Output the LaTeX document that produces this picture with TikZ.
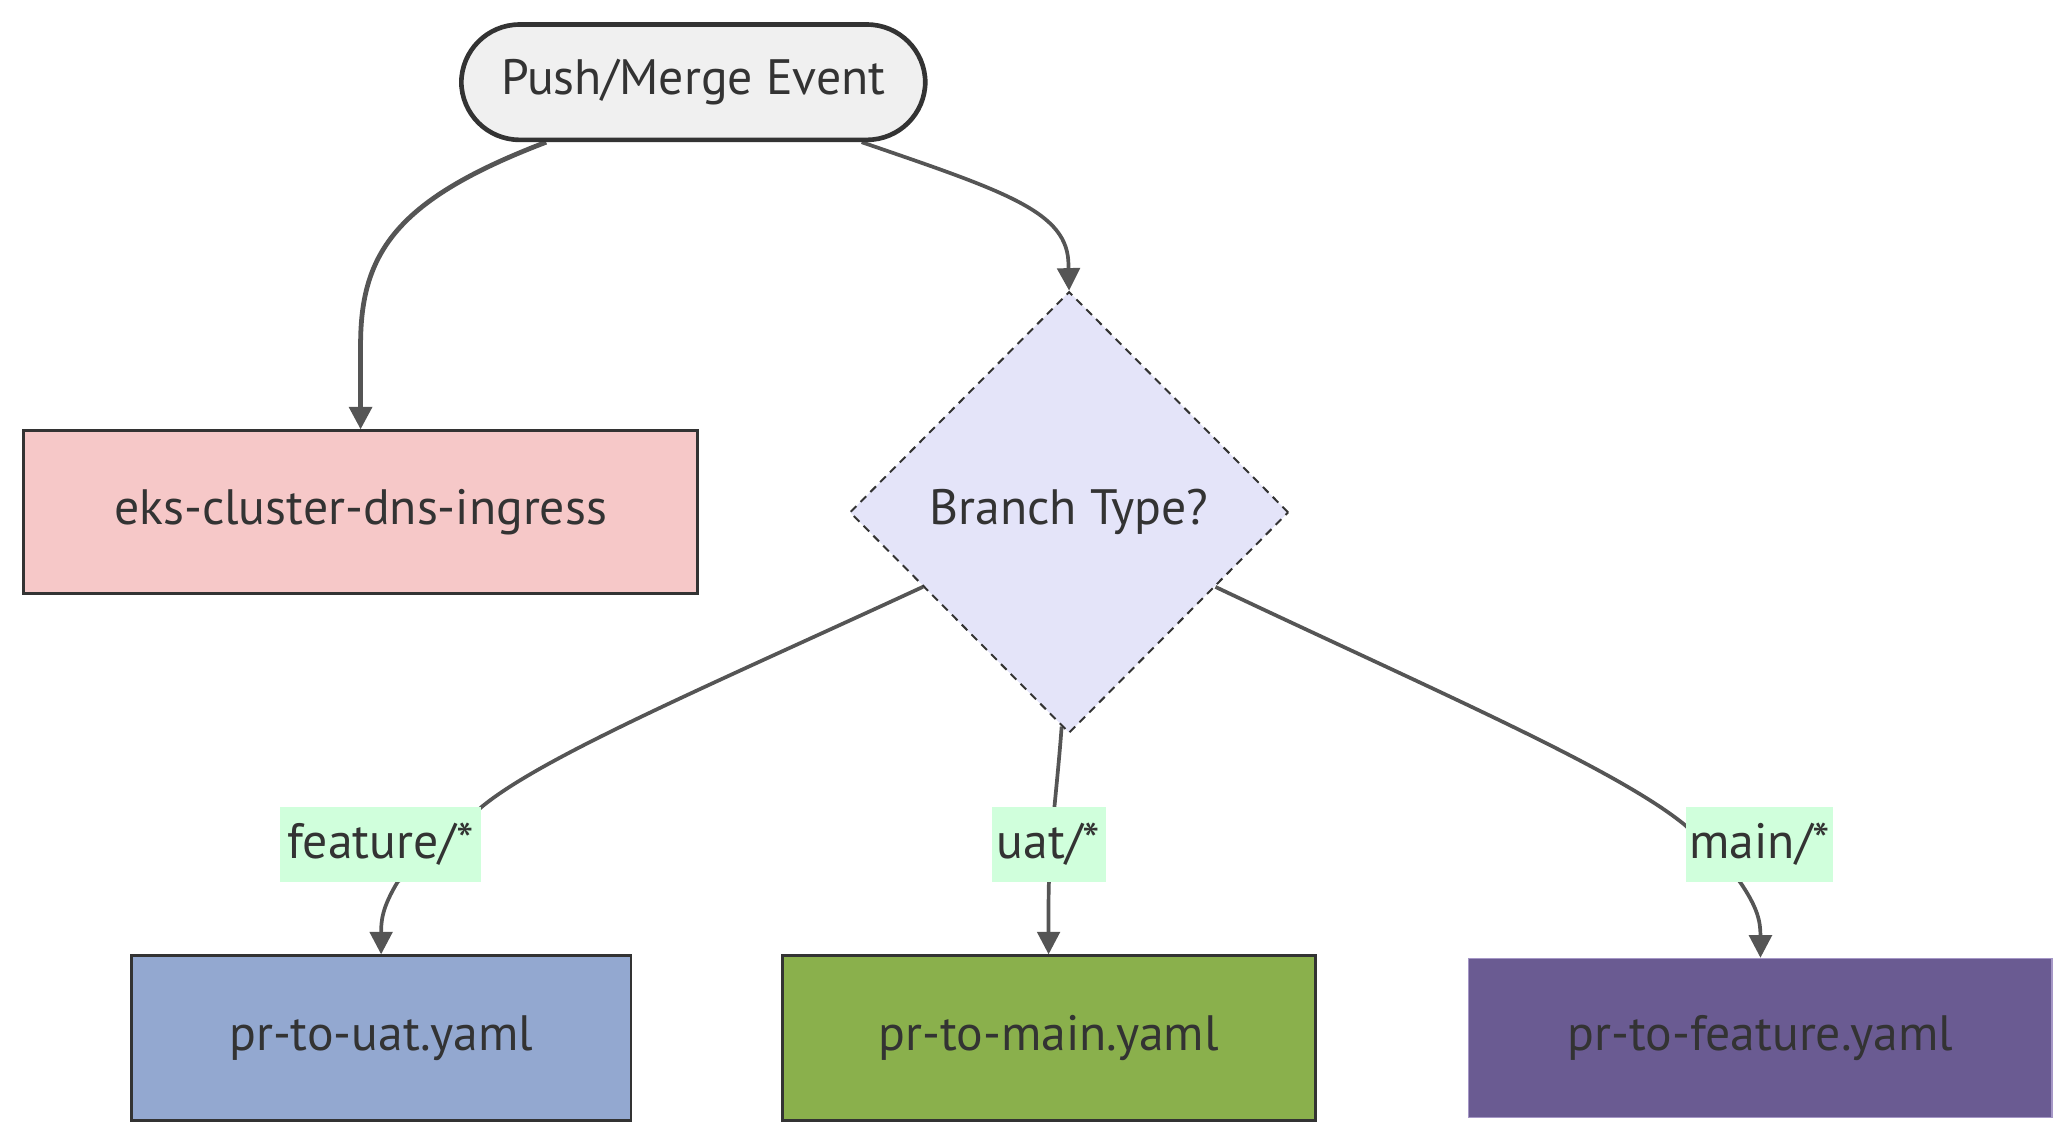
\documentclass[tikz,border=0pt]{standalone}
\usepackage{fontspec}
\setmainfont{PT Sans}
\usetikzlibrary{arrows.meta,shapes.geometric,calc}
\definecolor{txt}{HTML}{333333}
\definecolor{edgec}{HTML}{555555}
\definecolor{pillfill}{HTML}{F0F0F0}
\definecolor{eksfill}{HTML}{F6C8C8}
\definecolor{diafill}{HTML}{E4E4F9}
\definecolor{uatfill}{HTML}{93A8D0}
\definecolor{mainfill}{HTML}{8AB04C}
\definecolor{featfill}{HTML}{6A5B92}
\definecolor{featline}{HTML}{A597C6}
\definecolor{lblfill}{HTML}{D0FFDC}
\pgfdeclarelayer{bg}
\pgfsetlayers{bg,main}
\tikzset{
  lbl/.style={font=\fontsize{37.5}{44}\selectfont, text=txt, inner sep=0pt},
  box/.style={lbl, rectangle, draw=txt, line width=2.2pt, minimum height=124pt},
  elabel/.style={lbl, fill=lblfill, minimum height=56pt},
  edge/.style={draw=edgec, line width=2.8pt, -{Triangle[length=17pt,width=17pt]}},
}
\begin{document}
\begin{tikzpicture}[x=1pt,y=-1pt]
\useasboundingbox (0,0) rectangle (1560,858.4);
\node[lbl, draw=txt, line width=3.5pt, fill=pillfill, rounded corners=44pt,
      minimum width=350pt, minimum height=87pt] (push) at (523,62) {Push/Merge Event};
\node[box, fill=eksfill, minimum width=508pt, minimum height=123pt] (eks) at (272,386.5) {eks-cluster-dns-ingress};
\node[lbl, diamond, aspect=1, minimum width=331pt, minimum height=333pt, draw=txt,
      line width=1.5pt, dash pattern=on 6pt off 4.5pt, fill=diafill] (dia) at (806.5,386.5) {Branch Type?};
\node[box, fill=uatfill, minimum width=377pt] (uatbox) at (287.5,783) {pr-to-uat.yaml};
\node[box, fill=mainfill, minimum width=402pt] (mainbox) at (791,783) {pr-to-main.yaml};
\node[box, draw=featline, line width=1pt, fill=featfill, minimum width=440pt, minimum height=120pt] (featbox) at (1328,783) {pr-to-feature.yaml};
\node[elabel, minimum width=152pt] (lf) at (287,637) {feature/*};
\node[elabel, minimum width=86pt] (lu) at (791,637) {uat/*};
\node[elabel, minimum width=111pt] (lm) at (1327.5,637) {main/*};
\begin{pgfonlayer}{bg}
\draw[edge, line width=3.6pt] ($(push.south)+(-111,0)$) .. controls (300,150) and (272,190) .. (272,260) -- (eks.north);
\draw[edge] ($(push.south)+(127,0)$) .. controls (760,145) and (806,160) .. (806,200) -- (dia.north);
\draw[edge] (dia.207) .. controls (540,515) and (410,570) .. (lf.north east) -- ($(lf.south)+(13,0)$) .. controls (288,685) and (287.5,695) .. (uatbox.north);
\draw[edge] (dia.268) .. controls (797,600) and (791,640) .. (791,680) -- (mainbox.north);
\draw[edge] (dia.333) .. controls (1080,520) and (1220,580) .. ($(lm.west)+(0,-14)$) -- ($(lm.south)+(-15,0)$) .. controls (1326,685) and (1328,695) .. (featbox.north);
\end{pgfonlayer}
\end{tikzpicture}
\end{document}
